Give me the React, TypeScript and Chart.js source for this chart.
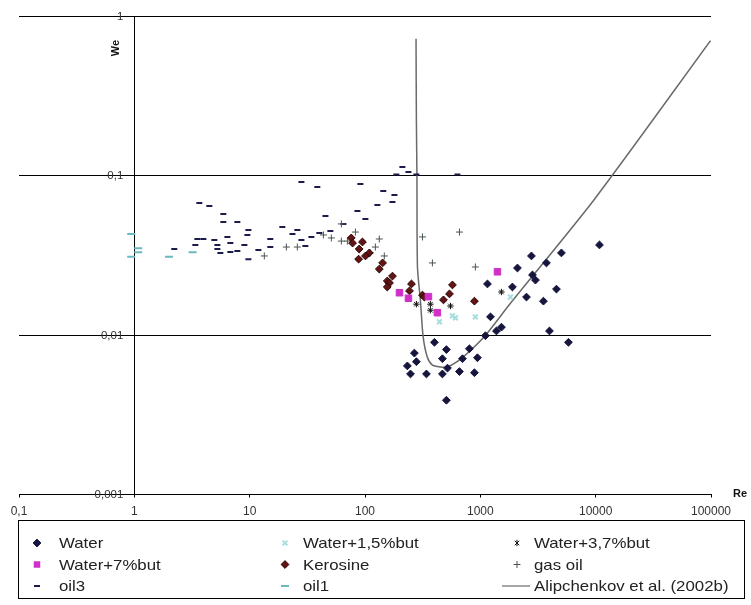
import React, { useEffect, useRef } from 'react';
import { Chart, registerables } from 'chart.js';

Chart.register(...registerables);

// ---------- data (Re, We) ----------
const waterRe = [233, 248, 268, 279, 341, 400, 469, 469, 508, 519, 508, 659, 700, 804, 889, 944, 1107, 1153, 1224, 1379, 1524, 1898, 2098, 2512, 2774, 2831, 3006, 3524, 3743, 3975, 4571, 5047, 5808, 10790];
const waterWe = [0.0064, 0.0057, 0.0077, 0.0068, 0.0057, 0.0090, 0.0071, 0.0057, 0.0081, 0.0062, 0.0039, 0.0059, 0.0071, 0.0082, 0.0058, 0.0072, 0.0099, 0.0209, 0.0130, 0.0106, 0.0112, 0.0200, 0.0263, 0.0173, 0.0313, 0.0238, 0.0221, 0.0163, 0.0283, 0.0106, 0.0194, 0.0327, 0.0090, 0.0367];

const w15Re = [442, 573, 608, 906, 1824];
const w15We = [0.0121, 0.0132, 0.0128, 0.0130, 0.0173];

const w37Re = [279, 369, 369, 551, 1524];
const w37We = [0.0156, 0.0156, 0.0143, 0.0152, 0.0186];

const w7Re = [199, 238, 355, 424, 1407];
const w7We = [0.0184, 0.0170, 0.0174, 0.0138, 0.0249];

const keroRe = [76, 78, 95, 89, 109, 101, 88, 142, 133, 173, 156, 163, 156, 253, 243, 315, 327, 479, 540, 573, 889];
const keroWe = [0.0406, 0.0377, 0.0383, 0.0346, 0.0327, 0.0313, 0.0299, 0.0283, 0.0259, 0.0234, 0.0218, 0.0212, 0.0200, 0.0209, 0.0189, 0.0178, 0.0173, 0.0166, 0.0181, 0.0206, 0.0163];

const gasRe = [13.4, 20.8, 25.9, 43.6, 51.1, 62.4, 62.4, 70.4, 82.6, 111, 123, 133, 147, 315, 659, 384, 906];
const gasWe = [0.0313, 0.0356, 0.0356, 0.0424, 0.0406, 0.0497, 0.0388, 0.0388, 0.0442, 0.0327, 0.0356, 0.0400, 0.0313, 0.0412, 0.0442, 0.0283, 0.0267];

const oil3Re = [2.22, 3.38, 3.52, 3.97, 3.66, 4.47, 4.94, 5.25, 5.25, 5.57, 5.91, 5.91, 6.41, 6.80, 6.80, 7.82, 7.82, 9.0, 9.55, 9.75, 9.75, 11.9, 15.1, 15.1, 19.2, 23.5, 25.9, 28.1, 28.1, 30.4, 34.3, 38.6, 40.2, 45.4, 50.1, 65.0, 86.0, 91.2, 100.8, 128, 144, 173, 180, 187, 211, 238, 279, 633];
const oil3We = [0.0346, 0.0367, 0.0400, 0.0400, 0.0672, 0.0644, 0.0394, 0.0367, 0.0346, 0.0327, 0.0574, 0.0511, 0.0412, 0.0377, 0.0331, 0.0511, 0.0336, 0.0367, 0.0424, 0.0455, 0.0299, 0.0341, 0.0400, 0.0356, 0.0475, 0.0430, 0.0455, 0.0910, 0.0394, 0.0361, 0.0412, 0.0847, 0.0436, 0.0557, 0.0449, 0.0497, 0.0599, 0.0885, 0.0533, 0.0653, 0.0800, 0.0682, 0.0755, 0.1014, 0.1130, 0.1050, 0.1014, 0.1014];

const oil1Re = [0.94, 1.08, 1.08, 0.94, 2.0, 3.2];
const oil1We = [0.043, 0.035, 0.033, 0.031, 0.031, 0.033];

const alipRe = [277, 279, 282, 285, 302, 319, 346, 382, 451, 515, 629, 821, 1114, 1824, 9616, 99000];
const alipWe = [0.72, 0.22, 0.10, 0.0267, 0.0166, 0.0098, 0.0073, 0.0065, 0.0063, 0.0063, 0.0068, 0.0080, 0.0100, 0.0158, 0.070, 0.70];

const xTickValues = [0.1, 1, 10, 100, 1000, 10000, 100000];
const xTickLabels = ['0,1', '1', '10', '100', '1000', '10000', '100000'];
const yTickValues = [0.001, 0.01, 0.1, 1];
const yTickLabels = ['0,001', '0,01', '0,1', '1'];

const seriesLabels = ['Water', 'Water+1,5%but', 'Water+3,7%but', 'Water+7%but', 'Kerosine', 'gas oil', 'oil3', 'oil1', 'Alipchenkov et al. (2002b)'];

const FONT = '"Liberation Sans", Arial, sans-serif';

const pts = (xs: number[], ys: number[]) => xs.map((x, i) => ({ x, y: ys[i] }));

type Mk = { style: string; r: number; fill: string; stroke: string; lw: number };
const markers: Mk[] = [
  { style: 'rectRot', r: 3.9, fill: '#15153d', stroke: '#15153d', lw: 1 },
  { style: 'crossRot', r: 3.4, fill: '#a6dede', stroke: '#a6dede', lw: 2 },
  { style: 'star', r: 3.2, fill: '#111', stroke: '#111', lw: 1 },
  { style: 'rect', r: 4.6, fill: '#d030c8', stroke: '#d030c8', lw: 1 },
  { style: 'rectRot', r: 3.9, fill: '#641414', stroke: '#2a0505', lw: 1 },
  { style: 'cross', r: 3.5, fill: '#4a5550', stroke: '#4a5550', lw: 1 },
  { style: 'line', r: 3, fill: '#1c1c4c', stroke: '#1c1c4c', lw: 2 },
  { style: 'line', r: 4, fill: '#6ab8c0', stroke: '#6ab8c0', lw: 2 },
  { style: 'lineSeg', r: 14, fill: '#6a6a6a', stroke: '#6a6a6a', lw: 1.2 },
];

function drawMarker(ctx: CanvasRenderingContext2D, m: Mk, x: number, y: number) {
  ctx.save();
  ctx.fillStyle = m.fill;
  ctx.strokeStyle = m.stroke;
  ctx.lineWidth = m.lw;
  const r = m.r;
  ctx.beginPath();
  switch (m.style) {
    case 'rectRot':
      ctx.moveTo(x, y - r); ctx.lineTo(x + r, y); ctx.lineTo(x, y + r); ctx.lineTo(x - r, y); ctx.closePath();
      ctx.fill(); ctx.stroke();
      break;
    case 'rect': {
      const s = r * Math.SQRT1_2;
      ctx.rect(x - s, y - s, 2 * s, 2 * s); ctx.fill();
      break;
    }
    case 'crossRot': {
      const s = r * Math.SQRT1_2;
      ctx.moveTo(x - s, y - s); ctx.lineTo(x + s, y + s); ctx.moveTo(x - s, y + s); ctx.lineTo(x + s, y - s); ctx.stroke();
      break;
    }
    case 'star': {
      const s = r * Math.SQRT1_2;
      ctx.moveTo(x - s, y - s); ctx.lineTo(x + s, y + s); ctx.moveTo(x - s, y + s); ctx.lineTo(x + s, y - s);
      ctx.moveTo(x, y - r); ctx.lineTo(x, y + r); ctx.stroke();
      break;
    }
    case 'cross':
      ctx.moveTo(x - r, y); ctx.lineTo(x + r, y); ctx.moveTo(x, y - r); ctx.lineTo(x, y + r); ctx.stroke();
      break;
    case 'line':
    case 'lineSeg':
      ctx.moveTo(x - r, y); ctx.lineTo(x + r, y); ctx.stroke();
      break;
  }
  ctx.restore();
}

const extrasPlugin = {
  id: 'extras',
  afterDraw(chart: any) {
    const ctx: CanvasRenderingContext2D = chart.ctx;
    const xs = chart.scales.x;
    const ys = chart.scales.y;
    ctx.save();

    // y tick labels, right-aligned left of the y axis (which crosses at Re = 1)
    const axisX = xs.getPixelForValue(1);
    ctx.font = `11.5px ${FONT}`;
    ctx.fillStyle = '#333';
    ctx.textAlign = 'right';
    ctx.textBaseline = 'middle';
    yTickValues.forEach((v, i) => {
      ctx.fillText(yTickLabels[i], axisX - 11, ys.getPixelForValue(v) + 0.5);
    });

    // axis titles
    ctx.fillStyle = '#111';
    ctx.font = `bold 11px ${FONT}`;
    ctx.textAlign = 'left';
    ctx.textBaseline = 'middle';
    ctx.fillText('Re', 733, 494);
    ctx.save();
    ctx.translate(116, 48);
    ctx.rotate(-Math.PI / 2);
    ctx.textAlign = 'center';
    ctx.fillText('We', 0, 0);
    ctx.restore();

    // legend box
    ctx.strokeStyle = '#000';
    ctx.lineWidth = 1;
    ctx.strokeRect(18.5, 520.5, 726, 78);
    const colMarkerX = [37, 285, 517];
    const colTextX = [59, 303, 534];
    const rowY = [543, 564.5, 586];
    ctx.font = `14.5px ${FONT}`;
    ctx.textAlign = 'left';
    ctx.textBaseline = 'middle';
    seriesLabels.forEach((label, i) => {
      const col = i % 3;
      const row = Math.floor(i / 3);
      const m = markers[i];
      const mx = m.style === 'lineSeg' ? colTextX[col] - 18 : colMarkerX[col];
      drawMarker(ctx, m, mx, rowY[row]);
      ctx.save();
      ctx.fillStyle = '#222';
      ctx.translate(colTextX[col], rowY[row] + 1);
      ctx.scale(1.16, 1);
      ctx.fillText(label, 0, 0);
      ctx.restore();
    });
    ctx.restore();
  },
};

export default function App() {
  const ref = useRef<HTMLCanvasElement>(null);
  useEffect(() => {
    if (!ref.current) return;
    Chart.defaults.font.family = FONT;
    const series = [
      pts(waterRe, waterWe), pts(w15Re, w15We), pts(w37Re, w37We), pts(w7Re, w7We),
      pts(keroRe, keroWe), pts(gasRe, gasWe), pts(oil3Re, oil3We), pts(oil1Re, oil1We),
    ];
    const datasets: any[] = series.map((data, i) => {
      const m = markers[i];
      return {
        label: seriesLabels[i],
        data,
        pointStyle: m.style,
        pointRadius: m.r,
        pointBackgroundColor: m.fill,
        pointBorderColor: m.stroke,
        pointBorderWidth: m.lw,
        showLine: false,
      };
    });
    datasets.push({
      label: seriesLabels[8],
      data: pts(alipRe, alipWe),
      showLine: true,
      borderColor: '#6a6a6a',
      borderWidth: 1.5,
      pointRadius: 0,
      tension: 0.25,
      fill: false,
    });
    const chart = new Chart(ref.current, {
      type: 'scatter',
      data: { datasets },
      plugins: [extrasPlugin],
      options: {
        animation: false,
        responsive: false,
        events: [],
        layout: { padding: { left: 19, right: 40, top: 16, bottom: 80.5 } },
        plugins: { legend: { display: false }, tooltip: { enabled: false } },
        scales: {
          x: {
            type: 'logarithmic',
            min: 0.1,
            max: 100000,
            afterBuildTicks: (s: any) => { s.ticks = xTickValues.map((v) => ({ value: v })); },
            afterFit: (s: any) => { s.height = 30; },
            ticks: {
              autoSkip: false,
              maxRotation: 0,
              padding: 7,
              color: '#333',
              font: { size: 12, family: FONT },
              callback: (_v: any, i: number) => xTickLabels[i],
            },
            grid: { drawOnChartArea: false, color: '#000', tickLength: 3 },
            border: { color: '#000', width: 1 },
          },
          y: {
            type: 'logarithmic',
            min: 0.001,
            max: 1,
            position: { x: 1 } as any,
            afterBuildTicks: (s: any) => { s.ticks = yTickValues.map((v) => ({ value: v })); },
            ticks: { display: false, callback: (_v: any, i: number) => yTickLabels[i] },
            grid: { color: '#000', drawTicks: false, lineWidth: 1 },
            border: { color: '#000', width: 1 },
          },
        },
      } as any,
    });
    return () => chart.destroy();
  }, []);
  return (
    <div style={{ position: 'absolute', left: 0, top: 0, width: 751, height: 605, background: '#fff' }}>
      <canvas ref={ref} width={751} height={605} style={{ display: 'block' }} />
    </div>
  );
}
